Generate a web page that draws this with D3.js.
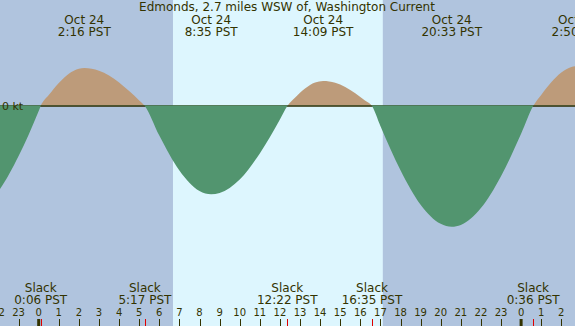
<!DOCTYPE html>
<html><head><meta charset="utf-8">
<script src="https://cdn.jsdelivr.net/npm/d3@7"></script>
<style>html,body{margin:0;padding:0;background:#b0c4de;}svg{display:block;}</style>
</head><body>
<script>
const title = "Edmonds, 2.7 miles WSW of, Washington Current";
// hours relative to Oct 24 00:00 PST, current in knots (flood +, ebb -)
const curveHours = [-3, -2, -1, 0, 0.1, 0.5, 1, 1.5, 2, 2.27, 3, 4, 4.5, 5, 5.28, 6, 7, 8, 8.58, 9, 10, 11, 12, 12.37, 12.75, 13.25, 13.75, 14.15, 14.75, 15.25, 15.75, 16.25, 16.58, 17, 18, 19, 20, 20.55, 21, 22, 23, 24, 24.6, 25, 25.5, 26, 26.5, 26.83, 27, 28];
const curveKnots = [-1.03, -0.85, -0.50, -0.05, 0, 0.109, 0.230, 0.323, 0.373, 0.38, 0.353, 0.236, 0.150, 0.056, 0, -0.296, -0.645, -0.850, -0.883, -0.870, -0.735, -0.474, -0.135, 0, 0.082, 0.175, 0.235, 0.25, 0.232, 0.190, 0.128, 0.053, 0, -0.199, -0.643, -0.987, -1.178, -1.207, -1.189, -1.021, -0.702, -0.278, 0, 0.111, 0.237, 0.334, 0.389, 0.40, 0.398, 0.297];
const maxHours = [2.267, 8.583, 14.15, 20.55, 26.833];
const maxDates = ["Oct 24", "Oct 24", "Oct 24", "Oct 24", "Oct 25"];
const maxLabels = ["2:16 PST", "8:35 PST", "14:09 PST", "20:33 PST", "2:50 PST"];
const slackHours = [0.1, 5.283, 12.367, 16.583, 24.6];
const slackLabels = ["0:06 PST", "5:17 PST", "12:22 PST", "16:35 PST", "0:36 PST"];
const sunrise = 6.68, sunset = 17.12;
const hourTicks = d3.range(-2, 27);
const midnights = [0, 24];

const W = 575, H = 326;
const svg = d3.select("body").append("svg").attr("width", W).attr("height", H);
const x = d3.scaleLinear().domain([0, 24]).range([38.7, 38.7 + 24 * 20.1]);
const y = d3.scaleLinear().domain([0, 1]).range([106, 6]);
const txt = "#333300";
const font = "DejaVu Sans";

svg.append("rect").attr("width", W).attr("height", H).attr("fill", "#b0c4de");
svg.append("rect").attr("x", x(sunrise)).attr("y", 0).attr("width", x(sunset) - x(sunrise)).attr("height", H).attr("fill", "#ddf6fe");

const pts = curveHours.map((h, i) => [h, curveKnots[i]]);
const defs = svg.append("defs");
defs.append("clipPath").attr("id", "above").append("rect").attr("x", 0).attr("y", 0).attr("width", W).attr("height", y(0));
defs.append("clipPath").attr("id", "below").append("rect").attr("x", 0).attr("y", y(0) - 0.8).attr("width", W).attr("height", H);

const areaUp = d3.area().curve(d3.curveMonotoneX).x(d => x(d[0])).y0(y(0)).y1(d => y(d[1]));
const areaDn = d3.area().curve(d3.curveMonotoneX).x(d => x(d[0])).y0(y(0) - 0.8).y1(d => y(d[1]));
svg.append("path").attr("d", areaUp(pts)).attr("fill", "#bd9b7a").attr("clip-path", "url(#above)");
svg.append("line").attr("x1", 0).attr("x2", W).attr("y1", y(0)).attr("y2", y(0)).attr("stroke", "#2a2a00").attr("stroke-width", 1.5);
svg.append("path").attr("d", areaDn(pts)).attr("fill", "#52956f").attr("clip-path", "url(#below)");

svg.append("text").attr("x", 2).attr("y", 110).attr("font-family", font).attr("font-size", 11).attr("fill", txt).text("0 kt");

svg.append("text").attr("x", 287).attr("y", 11).attr("text-anchor", "middle").attr("font-family", font).attr("font-size", 12).attr("fill", txt).text(title);

const topG = svg.append("g").attr("font-family", font).attr("font-size", 12).attr("fill", txt).attr("text-anchor", "middle");
maxHours.forEach((h, i) => {
  topG.append("text").attr("x", x(h)).attr("y", 24).text(maxDates[i]);
  topG.append("text").attr("x", x(h)).attr("y", 36).text(maxLabels[i]);
});
const botG = svg.append("g").attr("font-family", font).attr("font-size", 12).attr("fill", txt).attr("text-anchor", "middle");
slackHours.forEach((h, i) => {
  botG.append("text").attr("x", x(h)).attr("y", 292).text("Slack");
  botG.append("text").attr("x", x(h)).attr("y", 304).text(slackLabels[i]);
});

const tickG = svg.append("g");
hourTicks.forEach(h => {
  tickG.append("text").attr("x", x(h)).attr("y", 315.5).attr("text-anchor", "middle").attr("font-family", font).attr("font-size", 10).attr("fill", txt).text(((h % 24) + 24) % 24);
  tickG.append("line").attr("x1", Math.round(x(h)) + 0.5).attr("x2", Math.round(x(h)) + 0.5).attr("y1", 319).attr("y2", H).attr("stroke", txt).attr("stroke-width", 1);
});
midnights.forEach(h => {
  tickG.append("rect").attr("x", x(h) - 1.5).attr("y", 319).attr("width", 3).attr("height", 7).attr("fill", txt);
});
slackHours.forEach(h => {
  tickG.append("line").attr("x1", Math.round(x(h)) + 0.5).attr("x2", Math.round(x(h)) + 0.5).attr("y1", 319).attr("y2", H).attr("stroke", "#e00000").attr("stroke-width", 1);
});
</script>
</body></html>
